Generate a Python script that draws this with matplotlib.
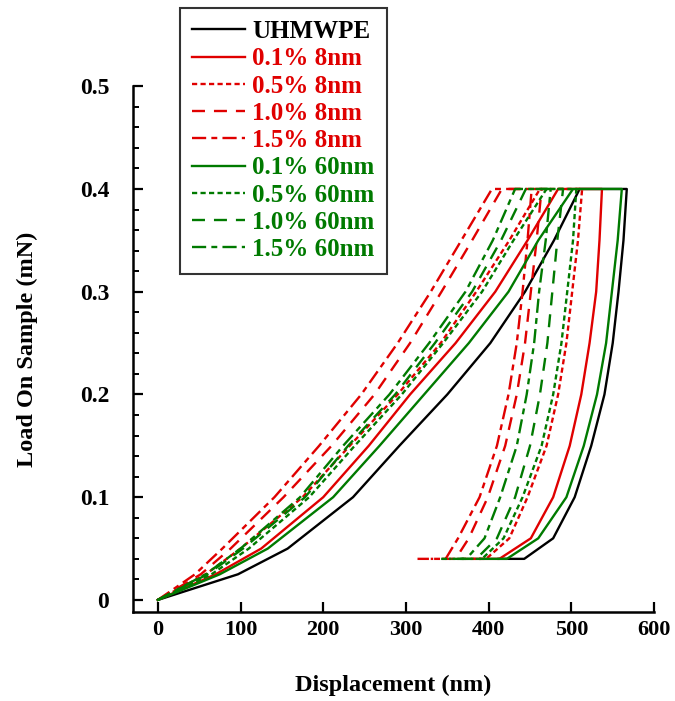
import matplotlib
matplotlib.use("Agg")
import matplotlib.pyplot as plt
from matplotlib.ticker import MultipleLocator, FuncFormatter

plt.rcParams["font.family"] = ["Liberation Serif", "DejaVu Serif"]
plt.rcParams["font.weight"] = "bold"

load_up = [0, 0.025, 0.05, 0.1, 0.15, 0.2, 0.25, 0.3, 0.35, 0.4]
load_down = [0.4, 0.35, 0.3, 0.25, 0.2, 0.15, 0.1, 0.06, 0.04]
hold_load = 0.04

labels = ["UHMWPE", "0.1% 8nm", "0.5% 8nm", "1.0% 8nm", "1.5% 8nm",
          "0.1% 60nm", "0.5% 60nm", "1.0% 60nm", "1.5% 60nm"]

# displacement (nm) on loading, at load_up
uhmwpe_up = [0, 97, 157, 236, 292, 350, 402, 444, 479, 510]
r01_up = [0, 70, 125, 200, 255, 305, 360, 408, 447, 484]
r05_up = [0, 58, 100, 175, 232, 290, 342, 385, 425, 462]
r10_up = [0, 52, 88, 152, 210, 262, 305, 343, 380, 416]
r15_up = [0, 45, 78, 141, 195, 246, 290, 330, 367, 404]
g01_up = [0, 75, 133, 212, 268, 322, 376, 424, 460, 502]
g05_up = [0, 65, 110, 183, 238, 295, 345, 392, 430, 470]
g10_up = [0, 60, 103, 178, 230, 287, 335, 380, 415, 445]
g15_up = [0, 58, 100, 172, 224, 280, 328, 372, 405, 432]

# displacement (nm) on unloading, at load_down
uhmwpe_down = [567, 563, 557, 550, 540, 524, 504, 478, 443]
r01_down = [537, 534, 530, 522, 512, 498, 478, 451, 413]
r05_down = [513, 508, 501, 494, 484, 470, 447, 425, 397]
r10_down = [464, 458, 451, 444, 434, 420, 399, 376, 360]
r15_down = [452, 447, 441, 434, 424, 410, 389, 363, 348]
g01_down = [561, 556, 549, 542, 531, 515, 494, 460, 422]
g05_down = [506, 502, 495, 488, 478, 464, 441, 418, 392]
g10_down = [490, 483, 477, 471, 462, 450, 432, 410, 385]
g15_down = [475, 469, 461, 455, 446, 434, 414, 395, 373]

# end of the low-load hold (nm)
hold_end = [412, 382, 362, 330, 314, 390, 360, 352, 340]

ups = [uhmwpe_up, r01_up, r05_up, r10_up, r15_up, g01_up, g05_up, g10_up, g15_up]
downs = [uhmwpe_down, r01_down, r05_down, r10_down, r15_down,
         g01_down, g05_down, g10_down, g15_down]

red = "#E00000"
green = "#007A00"
colors = ["black", red, red, red, red, green, green, green, green]
solid = "-"
short_dash = (0, (2.2, 1.4))
long_dash = (0, (5.5, 3.8))
dash_dot = (0, (6, 2.2, 2.5, 2.2))
styles = [solid, solid, short_dash, long_dash, dash_dot,
          solid, short_dash, long_dash, dash_dot]

fig = plt.figure(figsize=(6.75, 7.01), dpi=100)
ax = fig.add_axes([0.197, 0.127, 0.772, 0.750])

for up, down, end, lab, col, ls in zip(ups, downs, hold_end, labels, colors, styles):
    xs = up + down + [end]
    ys = load_up + load_down + [hold_load]
    ax.plot(xs, ys, color=col, linestyle=ls, linewidth=1.7, label=lab)

ax.set_xlim(-30, 600)
ax.set_ylim(-0.0117, 0.5)
ax.xaxis.set_major_locator(MultipleLocator(100))
ax.yaxis.set_major_locator(MultipleLocator(0.1))
ax.yaxis.set_minor_locator(MultipleLocator(0.02))
ax.yaxis.set_major_formatter(FuncFormatter(lambda v, p: "%g" % round(v, 2)))

for side in ["top", "right"]:
    ax.spines[side].set_visible(False)
for side in ["left", "bottom"]:
    ax.spines[side].set_linewidth(1.8)

ax.tick_params(which="major", direction="in", length=7, width=1.6, pad=6)
ax.tick_params(which="minor", direction="in", length=4, width=1.4)
ax.tick_params(axis="x", labelsize=16)
ax.tick_params(axis="y", labelsize=17, pad=17)

ax.set_xlabel("Displacement (nm)", fontsize=17.5, fontweight="bold", labelpad=25)
ax.set_ylabel("Load On Sample (mN)", fontsize=17.5, fontweight="bold", labelpad=30)

leg = ax.legend(loc="upper left", bbox_to_anchor=(0.266, 0.989),
                bbox_transform=fig.transFigure, fontsize=18, frameon=True,
                fancybox=False, edgecolor="black", handlelength=2.1,
                handletextpad=0.3, labelspacing=0.17, borderpad=0.5,
                borderaxespad=0)
leg.get_frame().set_linewidth(1.5)
for txt, col in zip(leg.get_texts(), colors):
    txt.set_color(col)

fig.savefig("out.png", dpi=100)
